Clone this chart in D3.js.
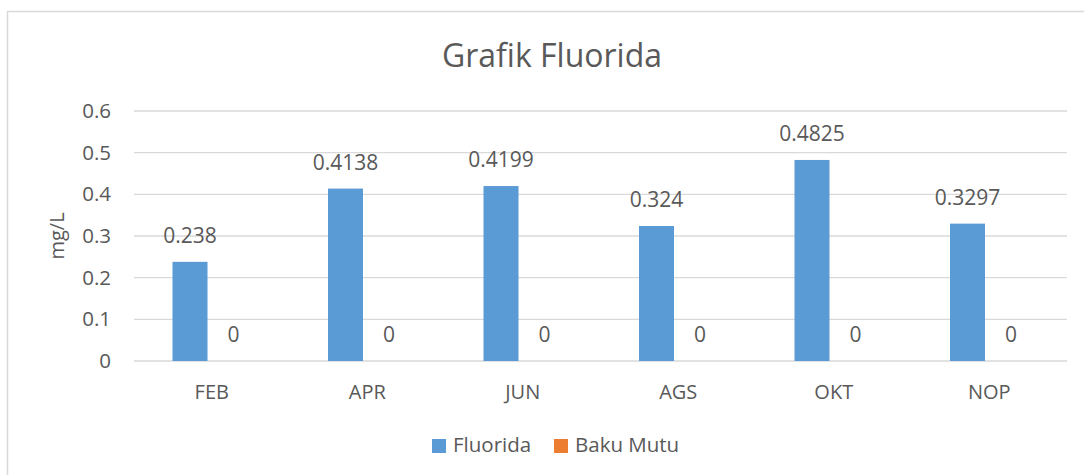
<!DOCTYPE html>
<html>
<head>
<meta charset="utf-8">
<script src="https://cdn.jsdelivr.net/npm/d3@7"></script>
<style>
    body { margin: 0; background: #fff; }
    text { font-family: "Open Sans", sans-serif; fill: #595959; }
</style>
</head>
<body>
<div id="chart"></div>
<script>
// data
let months = ["FEB", "APR", "JUN", "AGS", "OKT", "NOP"];
let fluorida = [0.238, 0.4138, 0.4199, 0.324, 0.4825, 0.3297];
let bakuMutu = [0, 0, 0, 0, 0, 0];
let yTicks = [0, 0.1, 0.2, 0.3, 0.4, 0.5, 0.6];
let seriesNames = ["Fluorida", "Baku Mutu"];
let seriesColors = ["#5B9BD5", "#ED7D31"];

let width = 1084, height = 475;
let margin = {top: 111, right: 17, bottom: 114, left: 134};
let innerW = width - margin.left - margin.right;
let innerH = height - margin.top - margin.bottom;

let svg = d3.select("#chart").append("svg")
    .attr("width", width)
    .attr("height", height);

// chart frame
svg.append("rect")
    .attr("x", 7.5).attr("y", 11.5)
    .attr("width", 1090).attr("height", 480)
    .attr("fill", "none")
    .attr("stroke", "#d9d9d9")
    .attr("stroke-width", 1.5);

let g = svg.append("g")
    .attr("transform", "translate(" + margin.left + "," + margin.top + ")");

let x = d3.scaleBand().domain(months).range([0, innerW]);
let y = d3.scaleLinear().domain([0, 0.6]).range([innerH, 0]);

let barW = 35, gap = 8.5;
let offsets = [-(barW + gap) / 2, (barW + gap) / 2];

// gridlines
g.selectAll(".grid").data(yTicks).enter().append("line")
    .attr("x1", 0).attr("x2", innerW)
    .attr("y1", d => y(d)).attr("y2", d => y(d))
    .attr("stroke", "#d9d9d9")
    .attr("stroke-width", 1.3);

// y tick labels
let yAxis = d3.axisLeft(y).tickValues(yTicks).tickSize(0).tickPadding(23)
    .tickFormat(d => d === 0 ? "0" : d3.format(".1f")(d));
g.append("g").call(yAxis)
    .call(a => a.select(".domain").remove())
    .selectAll("text")
    .style("font-size", "20.5px")
    .attr("fill", "#595959");

// x labels
let xAxis = d3.axisBottom(x).tickSize(0).tickPadding(24);
g.append("g").attr("transform", "translate(0," + innerH + ")").call(xAxis)
    .call(a => a.select(".domain").remove())
    .selectAll("text")
    .style("font-size", "20px")
    .attr("fill", "#595959");

let series = [fluorida, bakuMutu];
series.forEach((vals, si) => {
    let cx = m => x(m) + x.bandwidth() / 2 + offsets[si];
    g.selectAll(".bar" + si).data(months).enter().append("rect")
        .attr("x", (m) => cx(m) - barW / 2)
        .attr("y", (m, i) => y(vals[i]))
        .attr("width", barW)
        .attr("height", (m, i) => innerH - y(vals[i]))
        .attr("fill", seriesColors[si]);

    g.selectAll(".lab" + si).data(months).enter().append("text")
        .attr("x", m => cx(m))
        .attr("y", (m, i) => y(vals[i]) - 19)
        .attr("text-anchor", "middle")
        .style("font-size", "21px")
        .text((m, i) => vals[i]);
});

// title
svg.append("text")
    .attr("x", 552).attr("y", 67)
    .attr("text-anchor", "middle")
    .style("font-size", "32px")
    .text("Grafik Fluorida");

// y axis title
svg.append("text")
    .attr("transform", "translate(64,236) rotate(-90)")
    .attr("text-anchor", "middle")
    .style("font-size", "20px")
    .text("mg/L");

// legend
let legend = svg.append("g");
let legX = [432, 554];
seriesNames.forEach((name, i) => {
    legend.append("rect")
        .attr("x", legX[i]).attr("y", 439)
        .attr("width", 14).attr("height", 14)
        .attr("fill", seriesColors[i]);
    legend.append("text")
        .attr("x", legX[i] + 21).attr("y", 452)
        .style("font-size", "20.5px")
        .text(name);
});
</script>
</body>
</html>
